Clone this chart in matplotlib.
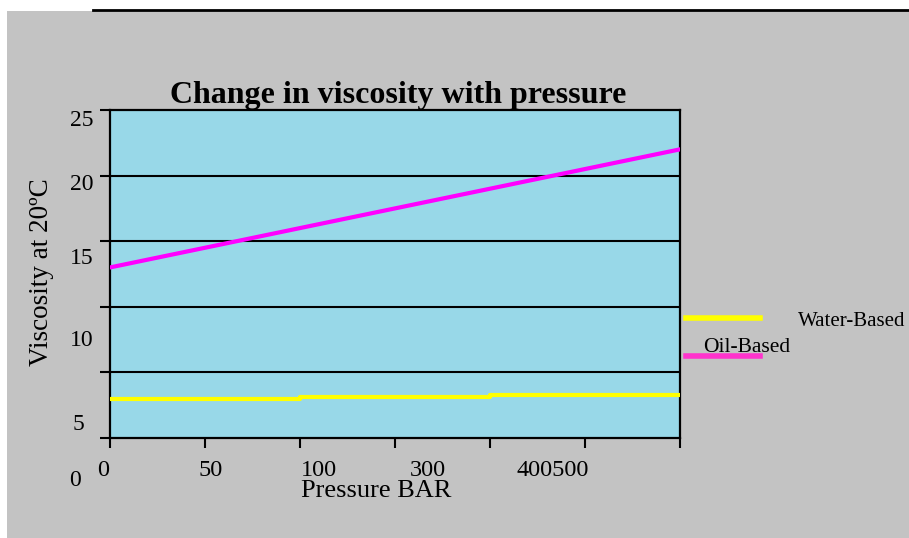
import matplotlib
matplotlib.use('Agg')
import matplotlib.pyplot as plt
from matplotlib.patches import Rectangle
from matplotlib.lines import Line2D

# data (axis units: x = tick index, y = viscosity scale 0-25)
oil_x = [0, 6]
oil_y = [13.0, 22.0]
water_x = [0, 2, 4, 6]
water_y = [2.95, 3.1, 3.25, 3.25]
x_labels = ["0", "50", "100", "300", "400500"]
y_labels = ["25", "20", "15", "10", "5", "0"]
series_names = ["Water-Based", "Oil-Based"]

# layout (pixel positions of the misplaced labels)
x_label_px = [103, 211, 319, 428, 553]
y_label_px = [120, 185, 258, 340, 425, 480]
y_label_x = [82, 82, 82, 82, 78, 75]

W, H = 909, 538
fig = plt.figure(figsize=(W / 100, H / 100), dpi=100)
fig.patch.set_facecolor('white')

def px(x, y):
    return x / W, 1 - y / H

serif = ['Liberation Serif', 'DejaVu Serif']

# gray panel and top rule
fig.patches.append(Rectangle(px(7, H), (W - 7) / W, (H - 11) / H,
                             transform=fig.transFigure, facecolor='#c3c3c3',
                             edgecolor='none', zorder=-5))
fig.lines.append(Line2D([93 / W, 1], [1 - 10 / H] * 2, transform=fig.transFigure,
                        color='black', linewidth=2))

ax = fig.add_axes([110 / W, 1 - 438 / H, 570 / W, 328 / H])
ax.set_zorder(2)
ax.set_facecolor('#98d8e8')
ax.set_xlim(0, 6)
ax.set_ylim(0, 25)
for s in ax.spines.values():
    s.set_linewidth(1.6)
    s.set_color('black')

ax.set_yticks([0, 5, 10, 15, 20, 25])
ax.set_yticklabels([])
ax.set_xticks(range(7))
ax.set_xticklabels([])
ax.tick_params(axis='both', direction='out', length=7, width=1.5, color='black')
for g in [5, 10, 15, 20]:
    ax.axhline(g, color='black', linewidth=1.5, zorder=1)

ax.plot(water_x, water_y, color='#ffff00', linewidth=3, drawstyle='steps-post', zorder=3)
ax.plot(oil_x, oil_y, color='#ff00ff', linewidth=3, zorder=3)

# title and labels
fig.text(*px(398, 95), "Change in viscosity with pressure", ha='center', va='center',
         fontsize=23, fontweight='bold', family=serif)
fig.text(*px(42, 272), "Viscosity at 20ºC", ha='center', va='center', rotation=90,
         fontsize=19.5, family=serif)
fig.text(*px(376, 491), "Pressure BAR", ha='center', va='center', fontsize=19, family=serif)

for lab, xp in zip(x_labels, x_label_px):
    fig.text(*px(xp, 471), lab, ha='center', va='center', fontsize=17.5, family=serif)
for lab, yp, xp in zip(y_labels, y_label_px, y_label_x):
    fig.text(*px(xp, yp), lab, ha='center', va='center', fontsize=17, family=serif)

# legend
fig.lines.append(Line2D([686 / W, 760 / W], [1 - 318 / H] * 2, transform=fig.transFigure,
                        color='#ffff00', linewidth=4))
fig.lines.append(Line2D([686 / W, 760 / W], [1 - 356 / H] * 2, transform=fig.transFigure,
                        color='#ff33cc', linewidth=4))
fig.text(*px(798, 321), series_names[0], ha='left', va='center', fontsize=15, family=serif)
fig.text(*px(703, 347), series_names[1], ha='left', va='center', fontsize=15.5, family=serif)

fig.savefig('out.png', dpi=100)
